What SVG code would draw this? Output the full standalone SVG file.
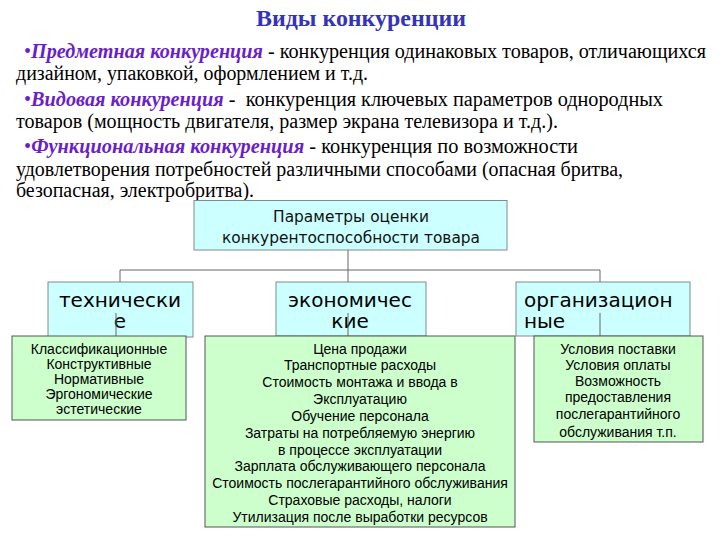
<svg xmlns="http://www.w3.org/2000/svg" width="720" height="540" viewBox="0 0 720 540">
<style>
.title{font-family:"Liberation Serif",serif;font-weight:bold;font-size:24px;fill:#3333bb}
.body{font-family:"Liberation Serif",serif;font-size:20px;fill:#000}
.term{font-style:italic;font-weight:bold;fill:#6a1fc8}
.bul{fill:#6a1fc8}
.blue{fill:#ccffff;stroke:#7f8c8c;stroke-width:1}
.green{fill:#ccffcc;stroke:#555;stroke-width:1}
.top{font-family:"DejaVu Sans",sans-serif;font-size:15.4px;fill:#111;text-anchor:middle}
.cat{font-family:"DejaVu Sans",sans-serif;font-size:20px;fill:#000}
.item{font-family:"Liberation Sans",Arial,sans-serif;font-size:14px;fill:#000;text-anchor:middle}
.conn{stroke:#666;stroke-width:1;fill:none}
</style>
<rect width="720" height="540" fill="#fff"/>
<text class="title" x="256" y="26" textLength="210" lengthAdjust="spacingAndGlyphs">Виды конкуренции</text>
<g id="text-block">
<text class="body" x="24" y="58" textLength="682" lengthAdjust="spacingAndGlyphs"><tspan class="bul">•</tspan><tspan class="term">Предметная конкуренция</tspan> - конкуренция одинаковых товаров, отличающихся</text>
<text class="body" x="16" y="80" textLength="352" lengthAdjust="spacingAndGlyphs">дизайном, упаковкой, оформлением и т.д.</text>
<text class="body" x="24" y="106" textLength="639" lengthAdjust="spacingAndGlyphs"><tspan class="bul">•</tspan><tspan class="term">Видовая конкуренция</tspan> -&#160; конкуренция ключевых параметров однородных</text>
<text class="body" x="16" y="128" textLength="542" lengthAdjust="spacingAndGlyphs">товаров (мощность двигателя, размер экрана телевизора и т.д.).</text>
<text class="body" x="24" y="153" textLength="554" lengthAdjust="spacingAndGlyphs"><tspan class="bul">•</tspan><tspan class="term">Функциональная конкуренция</tspan> - конкуренция по возможности</text>
<text class="body" x="16" y="176" textLength="607" lengthAdjust="spacingAndGlyphs">удовлетворения потребностей различными способами (опасная бритва,</text>
<text class="body" x="16" y="197" textLength="238" lengthAdjust="spacingAndGlyphs">безопасная, электробритва).</text>
</g>
<g id="root">
<rect class="blue" x="194" y="200.5" width="313" height="49.5"/>
<text class="top" x="351" y="222">Параметры оценки</text>
<text class="top" x="351" y="243">конкурентоспособности товара</text>
</g>
<g id="tech">
<rect class="blue" x="48" y="282" width="145" height="55"/>
<text class="cat" x="120" y="307" text-anchor="middle">технически</text>
<text class="cat" x="120" y="328" text-anchor="middle">е</text>
</g>
<g id="econ">
<rect class="blue" x="276" y="282" width="150" height="54"/>
<text class="cat" x="350" y="307" text-anchor="middle">экономичес</text>
<text class="cat" x="350" y="328" text-anchor="middle">кие</text>
</g>
<g id="org">
<rect class="blue" x="516" y="282" width="174" height="54"/>
<text class="cat" x="524" y="307">организацион</text>
<text class="cat" x="524" y="328">ные</text>
</g>
<g id="connectors">
<path class="conn" d="M348 250V282M120 270H600M120 270V282M600 270V282"/>
<path class="conn" d="M116 313V336M348 313V336M600 313V336"/>
</g>
<g id="tech-items">
<rect class="green" x="12" y="336" width="174" height="84"/>
<text class="item" x="99" y="354">Классификационные</text>
<text class="item" x="99" y="369">Конструктивные</text>
<text class="item" x="99" y="384">Нормативные</text>
<text class="item" x="99" y="399">Эргономические</text>
<text class="item" x="99" y="414">эстетические</text>
</g>
<g id="econ-items">
<rect class="green" x="205" y="336" width="310" height="191"/>
<text class="item" x="360" y="354">Цена продажи</text>
<text class="item" x="360" y="370">Транспортные расходы</text>
<text class="item" x="360" y="387">Стоимость монтажа и ввода в</text>
<text class="item" x="360" y="404">Эксплуатацию</text>
<text class="item" x="360" y="421">Обучение персонала</text>
<text class="item" x="360" y="438">Затраты на потребляемую энергию</text>
<text class="item" x="360" y="455">в процессе эксплуатации</text>
<text class="item" x="360" y="471">Зарплата обслуживающего персонала</text>
<text class="item" x="360" y="488">Стоимость послегарантийного обслуживания</text>
<text class="item" x="360" y="505">Страховые расходы, налоги</text>
<text class="item" x="360" y="522">Утилизация после выработки ресурсов</text>
</g>
<g id="org-items">
<rect class="green" x="534" y="336" width="169" height="106"/>
<text class="item" x="618" y="354">Условия поставки</text>
<text class="item" x="618" y="370">Условия оплаты</text>
<text class="item" x="618" y="386">Возможность</text>
<text class="item" x="618" y="402">предоставления</text>
<text class="item" x="618" y="419">послегарантийного</text>
<text class="item" x="618" y="437">обслуживания т.п.</text>
</g>
</svg>
